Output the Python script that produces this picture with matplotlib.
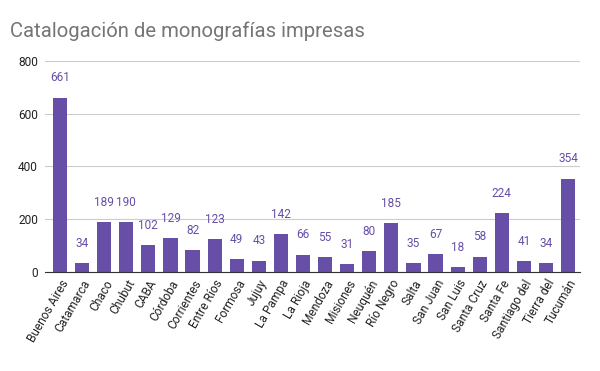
import matplotlib

matplotlib.use("Agg")
import matplotlib.pyplot as plt
import numpy as np

provincias = [
    "Buenos Aires", "Catamarca", "Chaco", "Chubut", "CABA", "Córdoba",
    "Corrientes", "Entre Ríos", "Formosa", "Jujuy", "La Pampa", "La Rioja",
    "Mendoza", "Misiones", "Neuquén", "Río Negro", "Salta", "San Juan",
    "San Luis", "Santa Cruz", "Santa Fe", "Santiago del", "Tierra del", "Tucumán",
]
monografias = [661, 34, 189, 190, 102, 129, 82, 123, 49, 43, 142, 66,
               55, 31, 80, 185, 35, 67, 18, 58, 224, 41, 34, 354]
y_ticks = [0, 200, 400, 600, 800]

plt.rcParams["font.family"] = ["Roboto", "DejaVu Sans"]
color = "#674ea7"

fig = plt.figure(figsize=(6, 3.71), dpi=100)
ax = fig.add_axes([0.075, 0.267, 0.892, 0.569])

x = np.arange(len(provincias))
bars = ax.bar(x, monografias, width=0.64, color=color, zorder=3)
for b, v in zip(bars, monografias):
    ax.annotate(str(v), (b.get_x() + b.get_width() / 2, v), xytext=(0, 9.5),
                textcoords="offset points", ha="center", va="bottom",
                fontsize=8.5, color=color)

ax.set_xlim(-0.68, 23.55)
ax.set_ylim(0, 800)
ax.set_yticks(y_ticks)
ax.set_xticks(x)
ax.set_xticklabels(provincias, rotation=60, ha="right", rotation_mode="anchor",
                   fontsize=8.6, color="#222222")
ax.tick_params(axis="y", labelsize=8.6, labelcolor="#222222", length=0, pad=5)
ax.tick_params(axis="x", length=0, pad=4)
ax.grid(axis="y", color="#cccccc", lw=0.8, zorder=0)
for s in ["top", "right", "left"]:
    ax.spines[s].set_visible(False)
ax.spines["bottom"].set_color("#333333")
ax.spines["bottom"].set_zorder(4)

fig.text(0.017, 0.915, "Catalogación de monografías impresas", fontsize=14.6,
         color="#757575", ha="left", va="center")

fig.savefig("out.png", dpi=100)
